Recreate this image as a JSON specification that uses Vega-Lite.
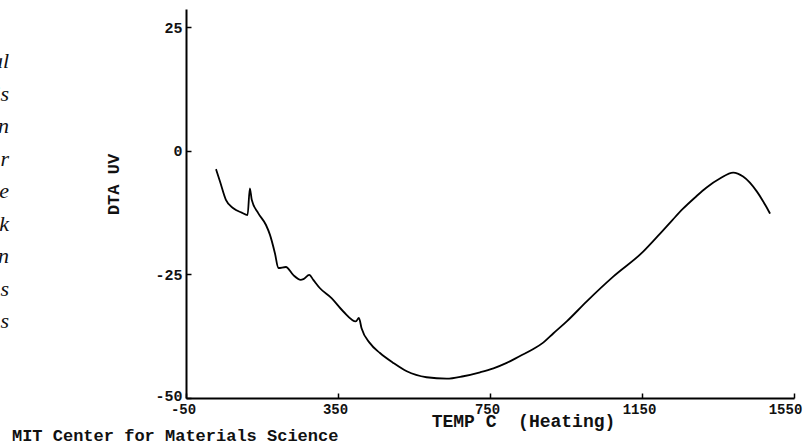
{
  "$schema": "https://vega.github.io/schema/vega-lite/v6.json",
  "width": 608,
  "height": 389,
  "autosize": {"type": "none"},
  "padding": {"left": 186, "top": 9, "right": 14, "bottom": 46},
  "background": "white",
  "config": {"view": {"stroke": null}},
  "title": {
    "text": ["al", "is", "n", "r", "e", "k", "n", "s", "s"],
    "orient": "top",
    "anchor": "start",
    "frame": "group",
    "align": "right",
    "baseline": "top",
    "dx": -177,
    "dy": 324,
    "offset": 0,
    "font": "Liberation Serif",
    "fontStyle": "italic",
    "fontWeight": "normal",
    "fontSize": 22,
    "lineHeight": 32.5,
    "color": "#111"
  },
  "datasets": {
    "dta": [
      {"temp": 29, "uv": -3.7},
      {"temp": 39.5, "uv": -6.2},
      {"temp": 55, "uv": -9.9},
      {"temp": 74.5, "uv": -11.6},
      {"temp": 96.6, "uv": -12.5},
      {"temp": 112, "uv": -13.0},
      {"temp": 118, "uv": -7.6},
      {"temp": 123, "uv": -9.9},
      {"temp": 140, "uv": -12.6},
      {"temp": 160.5, "uv": -15.0},
      {"temp": 171, "uv": -17.0},
      {"temp": 184, "uv": -20.7},
      {"temp": 193, "uv": -23.7},
      {"temp": 213, "uv": -23.5},
      {"temp": 232, "uv": -25.1},
      {"temp": 252, "uv": -26.1},
      {"temp": 259, "uv": -25.95},
      {"temp": 274.5, "uv": -25.1},
      {"temp": 285, "uv": -26.1},
      {"temp": 302.6, "uv": -27.8},
      {"temp": 333, "uv": -29.8},
      {"temp": 364, "uv": -32.5},
      {"temp": 397, "uv": -34.5},
      {"temp": 405, "uv": -33.8},
      {"temp": 412, "uv": -35.9},
      {"temp": 434, "uv": -38.9},
      {"temp": 460.5, "uv": -40.9},
      {"temp": 495.5, "uv": -42.9},
      {"temp": 531, "uv": -44.6},
      {"temp": 583, "uv": -45.8},
      {"temp": 636, "uv": -46.1},
      {"temp": 680, "uv": -45.6},
      {"temp": 724, "uv": -44.8},
      {"temp": 759, "uv": -44.0},
      {"temp": 794, "uv": -42.9},
      {"temp": 829, "uv": -41.5},
      {"temp": 864, "uv": -40.1},
      {"temp": 890, "uv": -38.8},
      {"temp": 917, "uv": -36.9},
      {"temp": 952, "uv": -34.5},
      {"temp": 1004, "uv": -30.5},
      {"temp": 1075, "uv": -25.4},
      {"temp": 1153, "uv": -20.4},
      {"temp": 1197, "uv": -16.8},
      {"temp": 1230, "uv": -14.0},
      {"temp": 1258, "uv": -11.7},
      {"temp": 1290, "uv": -9.4},
      {"temp": 1320, "uv": -7.4},
      {"temp": 1355, "uv": -5.6},
      {"temp": 1390, "uv": -4.4},
      {"temp": 1416, "uv": -5.2},
      {"temp": 1452, "uv": -8.2},
      {"temp": 1474, "uv": -10.9},
      {"temp": 1487, "uv": -12.7}
    ],
    "credit": [{"label": "MIT Center for Materials Science"}]
  },
  "layer": [
    {
      "data": {"name": "dta"},
      "mark": {"type": "line", "color": "#000", "strokeWidth": 1.8, "interpolate": "monotone"},
      "encoding": {
        "x": {
          "field": "temp",
          "type": "quantitative",
          "scale": {"domain": [-50, 1550], "nice": false, "zero": false},
          "axis": {
            "values": [-50, 350, 750, 1150, 1550],
            "labelExpr": "datum.value + ''",
            "grid": false,
            "domainColor": "#000",
            "domainWidth": 2,
            "tickColor": "#000",
            "tickWidth": 1.5,
            "tickSize": -5,
            "labelPadding": 9,
            "labelOffset": {"condition": {"test": "datum.value == 1550", "value": -9}, "value": -3},
            "labelFont": "Liberation Mono",
            "labelFontSize": 14,
            "labelFontWeight": "bold",
            "labelColor": "#111",
            "labelFlush": false,
            "title": "TEMP C\u00a0\u00a0(Heating)",
            "titleFont": "Liberation Mono",
            "titleFontSize": 18,
            "titleFontWeight": "bold",
            "titleColor": "#111",
            "titleX": 337,
            "titleY": 23,
            "titleAlign": "center",
            "titleBaseline": "middle"
          }
        },
        "y": {
          "field": "uv",
          "type": "quantitative",
          "scale": {"domain": [-50, 28.7], "nice": false, "zero": false},
          "axis": {
            "values": [-50, -25, 0, 25],
            "labelExpr": "datum.value + ''",
            "grid": false,
            "domainColor": "#000",
            "domainWidth": 2,
            "tickColor": "#000",
            "tickWidth": 1.5,
            "tickSize": -5,
            "labelPadding": 9,
            "labelOffset": {"condition": {"test": "datum.value == -50", "value": -3}, "value": 0},
            "labelFont": "Liberation Mono",
            "labelFontSize": 15,
            "labelFontWeight": "bold",
            "labelColor": "#111",
            "labelFlush": false,
            "title": "DTA UV",
            "titleFont": "Liberation Mono",
            "titleFontSize": 17,
            "titleFontWeight": "bold",
            "titleColor": "#111",
            "titleX": -73,
            "titleY": 175,
            "titleAlign": "center",
            "titleBaseline": "middle"
          }
        }
      }
    },
    {
      "mark": {"type": "rule", "color": "#000", "strokeWidth": 2},
      "encoding": {"x": {"datum": 1550}}
    },
    {
      "data": {"name": "credit"},
      "mark": {"type": "text", "font": "Liberation Mono", "fontSize": 17, "fontWeight": "bold", "align": "left", "baseline": "alphabetic", "color": "#111"},
      "encoding": {
        "x": {"datum": -508},
        "y": {"datum": -58.8},
        "text": {"field": "label", "type": "nominal"}
      }
    }
  ]
}
